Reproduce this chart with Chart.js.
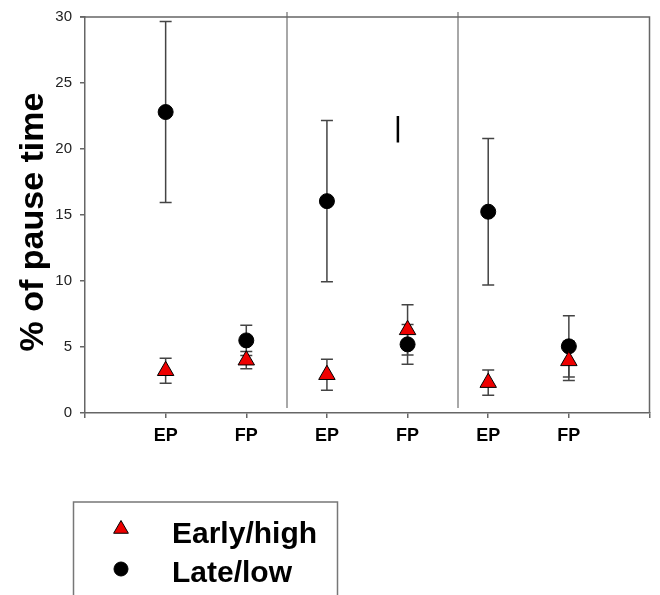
<!DOCTYPE html>
<html>
<head>
<meta charset="utf-8">
<script src="https://cdn.jsdelivr.net/npm/chart.js@4"></script>
<style>
  body { margin: 0; background: #fff; }
  #wrap { width: 660px; height: 595px; }
</style>
</head>
<body>
<div id="wrap"><canvas id="pauseChart" width="660" height="595"></canvas></div>
<script>
// Data
const positions = [1, 2, 3, 4, 5, 6];
const tickLabels = ['EP', 'FP', 'EP', 'FP', 'EP', 'FP'];
const earlyMeans = [3.2, 4.0, 2.9, 6.3, 2.3, 3.95];
const earlyErr = [0.95, 0.65, 1.17, 1.9, 0.95, 1.48];
const lateMeans = [22.8, 5.5, 16.05, 5.2, 15.25, 5.05];
const lateErr = [6.85, 1.15, 6.1, 1.5, 5.55, 2.32];
const dividers = [2.5, 4.63];
const strayMarkX = [3.88, 3.88];
const strayMarkY = [20.5, 22.5];

const FONT = "'Liberation Sans', Arial, sans-serif";

// Frame, dividers, error bars, axis title and legend
const decorations = {
    id: 'decorations',
    beforeDatasetsDraw(chart) {
        const ctx = chart.ctx;
        const area = chart.chartArea;
        const xs = chart.scales.x;
        const ys = chart.scales.y;
        ctx.save();

        // group dividers
        ctx.strokeStyle = '#a8a8a8';
        ctx.lineWidth = 2;
        dividers.forEach(v => {
            const px = Math.round(xs.getPixelForValue(v));
            ctx.beginPath();
            ctx.moveTo(px, area.top - 5);
            ctx.lineTo(px, area.bottom - 5);
            ctx.stroke();
        });

        // top and right border
        ctx.strokeStyle = '#666';
        ctx.lineWidth = 1.5;
        ctx.beginPath();
        ctx.moveTo(area.left - 5, area.top);
        ctx.lineTo(area.right, area.top);
        ctx.lineTo(area.right, area.bottom);
        ctx.stroke();

        // error bars
        ctx.strokeStyle = '#444';
        ctx.lineWidth = 1.5;
        chart.data.datasets.forEach(ds => {
            if (!ds.errors) return;
            ds.data.forEach((p, i) => {
                const px = xs.getPixelForValue(p.x);
                const hi = ys.getPixelForValue(p.y + ds.errors[i]);
                const lo = ys.getPixelForValue(p.y - ds.errors[i]);
                ctx.beginPath();
                ctx.moveTo(px, hi);
                ctx.lineTo(px, lo);
                ctx.moveTo(px - 6, hi);
                ctx.lineTo(px + 6, hi);
                ctx.moveTo(px - 6, lo);
                ctx.lineTo(px + 6, lo);
                ctx.stroke();
            });
        });
        ctx.restore();
    },
    afterDraw(chart) {
        const ctx = chart.ctx;
        ctx.save();

        // y axis title
        ctx.translate(43, 222);
        ctx.rotate(-Math.PI / 2);
        ctx.fillStyle = '#000';
        ctx.font = 'bold 34px ' + FONT;
        ctx.textAlign = 'center';
        ctx.textBaseline = 'alphabetic';
        ctx.fillText('% of pause time', 0, 0);
        ctx.setTransform(1, 0, 0, 1, 0, 0);

        // legend box (runs off the bottom edge)
        ctx.strokeStyle = '#777';
        ctx.lineWidth = 1.5;
        ctx.beginPath();
        ctx.moveTo(73.5, 600);
        ctx.lineTo(73.5, 502);
        ctx.lineTo(337.5, 502);
        ctx.lineTo(337.5, 600);
        ctx.stroke();

        const entries = [chart.data.datasets[0], chart.data.datasets[1]];
        const rowY = [529, 569];
        const baseY = [543, 582];
        entries.forEach((ds, i) => {
            ctx.fillStyle = ds.backgroundColor;
            ctx.strokeStyle = ds.borderColor;
            ctx.lineWidth = 1;
            Chart.helpers.drawPoint(ctx, {
                pointStyle: ds.pointStyle,
                radius: ds.pointStyle === 'triangle' ? 8.5 : 7,
                borderWidth: 1,
                rotation: 0
            }, 121, rowY[i]);
            ctx.fillStyle = '#000';
            ctx.font = 'bold 30px ' + FONT;
            ctx.textAlign = 'left';
            ctx.textBaseline = 'alphabetic';
            ctx.fillText(ds.label, 172, baseY[i]);
        });
        ctx.restore();
    }
};

const ctx = document.getElementById('pauseChart').getContext('2d');
new Chart(ctx, {
    type: 'scatter',
    data: {
        datasets: [{
            label: 'Early/high',
            data: positions.map((x, i) => ({ x: x, y: earlyMeans[i] })),
            errors: earlyErr,
            pointStyle: 'triangle',
            pointRadius: 9.5,
            backgroundColor: '#ee0000',
            borderColor: '#000',
            borderWidth: 1
        }, {
            label: 'Late/low',
            data: positions.map((x, i) => ({ x: x, y: lateMeans[i] })),
            errors: lateErr,
            pointStyle: 'circle',
            pointRadius: 7.5,
            backgroundColor: '#000',
            borderColor: '#000',
            borderWidth: 1
        }, {
            label: 'mark',
            type: 'line',
            data: strayMarkX.map((x, i) => ({ x: x, y: strayMarkY[i] })),
            showLine: true,
            pointRadius: 0,
            borderColor: '#000',
            borderWidth: 2.5
        }]
    },
    options: {
        responsive: false,
        animation: false,
        layout: { padding: { top: 14, right: 7, left: 0, bottom: 0 } },
        plugins: {
            legend: { display: false },
            tooltip: { enabled: false }
        },
        scales: {
            x: {
                type: 'linear',
                min: 0,
                max: 7,
                afterFit: s => { s.height = 182; },
                ticks: {
                    stepSize: 1,
                    autoSkip: false,
                    maxRotation: 0,
                    padding: 7,
                    color: '#000',
                    font: { family: FONT, size: 18, weight: 'bold' },
                    callback: v => tickLabels[v - 1] || ''
                },
                grid: { drawOnChartArea: false, tickLength: 5, color: '#666', lineWidth: 1.5 },
                border: { color: '#666', width: 1.5 }
            },
            y: {
                min: 0,
                max: 30,
                afterFit: s => { s.width = 85; },
                ticks: {
                    stepSize: 5,
                    padding: 8,
                    color: '#222',
                    font: { family: FONT, size: 15 }
                },
                grid: { drawOnChartArea: false, tickLength: 5, color: '#666', lineWidth: 1.5 },
                border: { color: '#666', width: 1.5 }
            }
        }
    },
    plugins: [decorations]
});
</script>
</body>
</html>
